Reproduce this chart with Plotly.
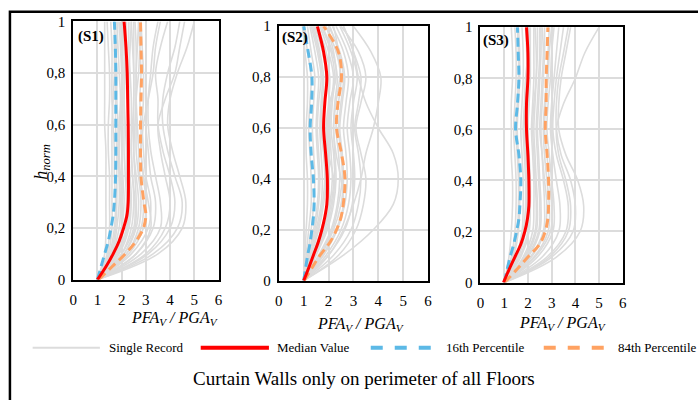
import plotly.graph_objects as go

# ---------------- data ----------------
H = [0, 0.1, 0.2, 0.3, 0.4, 0.5, 0.6, 0.7, 0.8, 0.9, 1.0]          # heights of single records
HP = [0, 0.05, 0.1, 0.15, 0.2, 0.25, 0.3, 0.4, 0.5, 0.6, 0.7, 0.8, 0.9, 1.0]  # heights of statistics

s1_records = [
    [1, 1.3, 1.35, 1.35, 1.35, 1.35, 1.3, 1.3, 1.3, 1.3, 1.3],
    [1, 1.4, 1.5, 1.5, 1.5, 1.45, 1.45, 1.5, 1.5, 1.45, 1.4],
    [1, 1.5, 1.7, 1.75, 1.7, 1.7, 1.65, 1.6, 1.6, 1.6, 1.55],
    [1, 1.6, 1.9, 1.95, 1.9, 1.85, 1.85, 1.8, 1.8, 1.75, 1.7],
    [1, 1.7, 2.0, 2.1, 2.05, 2.0, 2.0, 2.0, 2.05, 2.0, 1.95],
    [1, 1.8, 2.2, 2.3, 2.2, 2.2, 2.15, 2.1, 2.1, 2.1, 2.05],
    [1, 1.9, 2.3, 2.4, 2.35, 2.3, 2.3, 2.25, 2.2, 2.2, 2.2],
    [1, 2.0, 2.5, 2.55, 2.45, 2.4, 2.4, 2.4, 2.35, 2.3, 2.3],
    [1, 2.1, 2.6, 2.7, 2.6, 2.5, 2.5, 2.5, 2.5, 2.45, 2.4],
    [1, 2.2, 2.8, 2.9, 2.75, 2.7, 2.65, 2.6, 2.6, 2.6, 2.55],
    [1, 2.3, 2.9, 3.0, 2.9, 2.8, 2.8, 2.75, 2.8, 2.75, 2.7],
    [1, 2.4, 3.1, 3.2, 3.0, 2.9, 2.85, 2.9, 2.9, 2.85, 2.8],
    [1, 2.6, 3.3, 3.4, 3.2, 3.1, 3.0, 3.0, 3.0, 3.0, 3.0],
    [1, 2.8, 3.6, 3.6, 3.4, 3.2, 3.1, 3.1, 3.2, 3.3, 3.5],
    [1, 3.1, 4.0, 4.2, 4.0, 3.7, 3.5, 3.5, 3.4, 3.6, 3.9],
    [1, 3.3, 4.3, 4.5, 4.2, 3.9, 3.7, 3.7, 3.9, 4.2, 4.4],
    [1, 3.5, 4.5, 4.65, 4.4, 4.1, 3.9, 4.0, 4.3, 4.7, 5.0],
    [1, 3.0, 3.8, 4.0, 3.8, 3.6, 3.5, 3.8, 4.2, 4.4, 4.6],
    [1, 1.6, 1.8, 1.9, 1.9, 1.9, 1.9, 1.95, 1.9, 1.85, 1.8],
    [1, 1.75, 2.1, 2.2, 2.15, 2.1, 2.1, 2.1, 2.15, 2.15, 2.1],
    [1, 2.0, 2.4, 2.5, 2.45, 2.4, 2.45, 2.5, 2.5, 2.5, 2.5],
    [1, 2.2, 2.7, 2.8, 2.7, 2.6, 2.6, 2.6, 2.7, 2.75, 2.8],
    [1, 1.45, 1.6, 1.6, 1.6, 1.6, 1.6, 1.65, 1.7, 1.7, 1.7],
    [1, 2.6, 3.2, 3.1, 2.9, 2.8, 2.9, 3.1, 3.3, 3.4, 3.6],
    [1, 1.65, 2.0, 2.0, 1.95, 1.9, 1.95, 2.0, 2.0, 1.95, 1.9],
    [1, 1.85, 2.25, 2.35, 2.3, 2.25, 2.25, 2.3, 2.3, 2.35, 2.4],
    [1, 2.1, 2.55, 2.6, 2.55, 2.5, 2.55, 2.6, 2.6, 2.65, 2.7],
    [1, 1.55, 1.75, 1.8, 1.8, 1.8, 1.75, 1.75, 1.75, 1.8, 1.85],
]
s2_records = [
    [1, 1.05, 1.1, 1.15, 1.15, 1.1, 1.1, 1.15, 1.15, 1.05, 0.95],
    [1, 1.1, 1.2, 1.3, 1.3, 1.25, 1.2, 1.25, 1.3, 1.15, 1.05],
    [1, 1.15, 1.3, 1.4, 1.45, 1.4, 1.35, 1.4, 1.45, 1.3, 1.15],
    [1, 1.2, 1.4, 1.55, 1.6, 1.55, 1.5, 1.55, 1.6, 1.45, 1.25],
    [1, 1.25, 1.5, 1.7, 1.75, 1.7, 1.65, 1.7, 1.75, 1.6, 1.35],
    [1, 1.3, 1.6, 1.8, 1.9, 1.85, 1.8, 1.85, 1.9, 1.75, 1.45],
    [1, 1.35, 1.7, 1.95, 2.0, 1.95, 1.9, 2.0, 2.05, 1.9, 1.55],
    [1, 1.4, 1.8, 2.05, 2.15, 2.1, 2.05, 2.1, 2.2, 2.0, 1.65],
    [1, 1.5, 1.95, 2.2, 2.3, 2.25, 2.2, 2.25, 2.35, 2.15, 1.75],
    [1, 1.6, 2.1, 2.35, 2.45, 2.4, 2.3, 2.4, 2.5, 2.3, 1.9],
    [1, 1.7, 2.2, 2.5, 2.6, 2.55, 2.45, 2.55, 2.65, 2.45, 2.0],
    [1, 1.8, 2.35, 2.65, 2.75, 2.7, 2.6, 2.7, 2.8, 2.6, 2.15],
    [1, 1.9, 2.5, 2.8, 2.9, 2.85, 2.75, 2.85, 3.0, 2.75, 2.3],
    [1, 2.0, 2.65, 2.95, 3.05, 3.0, 2.9, 3.0, 3.15, 2.9, 2.45],
    [1, 2.2, 2.9, 3.2, 3.3, 3.2, 3.05, 3.2, 3.3, 3.0, 2.6],
    [1, 2.4, 3.1, 3.4, 3.5, 3.3, 3.1, 3.3, 3.5, 3.2, 2.5],
    [1, 2.6, 3.8, 4.6, 4.8, 4.6, 4.0, 3.5, 3.2, 3.0, 2.6],
    [1, 2.0, 2.6, 3.0, 3.3, 3.5, 3.8, 4.0, 4.1, 3.7, 3.0],
    [1, 1.45, 1.85, 2.1, 2.2, 2.0, 1.95, 2.05, 2.3, 2.2, 1.9],
    [1, 1.75, 2.3, 2.6, 2.5, 2.3, 2.2, 2.3, 2.45, 2.4, 2.2],
    [1, 1.3, 1.55, 1.75, 1.85, 1.8, 1.7, 1.75, 1.8, 1.65, 1.4],
    [1, 1.45, 1.9, 2.15, 2.25, 2.2, 2.1, 2.15, 2.25, 2.1, 1.7],
    [1, 1.2, 1.45, 1.6, 1.65, 1.6, 1.55, 1.6, 1.7, 1.55, 1.3],
    [1, 1.65, 2.15, 2.4, 2.55, 2.5, 2.4, 2.5, 2.6, 2.4, 2.05],
]
s3_records = [
    [1, 1.2, 1.3, 1.35, 1.35, 1.3, 1.3, 1.3, 1.35, 1.35, 1.3],
    [1, 1.3, 1.45, 1.5, 1.5, 1.45, 1.4, 1.45, 1.5, 1.5, 1.45],
    [1, 1.4, 1.6, 1.65, 1.65, 1.6, 1.55, 1.6, 1.65, 1.65, 1.6],
    [1, 1.5, 1.75, 1.8, 1.8, 1.75, 1.7, 1.75, 1.8, 1.8, 1.75],
    [1, 1.6, 1.9, 1.95, 1.95, 1.9, 1.85, 1.9, 1.95, 1.95, 1.9],
    [1, 1.7, 2.05, 2.1, 2.1, 2.05, 2.0, 2.05, 2.1, 2.1, 2.1],
    [1, 1.8, 2.2, 2.25, 2.25, 2.2, 2.15, 2.2, 2.25, 2.25, 2.25],
    [1, 1.9, 2.35, 2.4, 2.35, 2.3, 2.25, 2.3, 2.35, 2.4, 2.4],
    [1, 2.0, 2.5, 2.55, 2.5, 2.45, 2.4, 2.45, 2.5, 2.55, 2.55],
    [1, 2.1, 2.65, 2.7, 2.65, 2.6, 2.55, 2.6, 2.65, 2.7, 2.7],
    [1, 2.25, 2.85, 2.9, 2.8, 2.7, 2.65, 2.7, 2.8, 2.85, 2.9],
    [1, 2.4, 3.05, 3.1, 3.0, 2.9, 2.8, 2.85, 2.95, 3.0, 3.1],
    [1, 2.6, 3.3, 3.35, 3.2, 3.05, 2.95, 3.0, 3.1, 3.2, 3.3],
    [1, 2.8, 3.6, 3.7, 3.5, 3.2, 3.05, 3.1, 3.2, 3.35, 3.5],
    [1, 3.0, 3.9, 4.0, 3.8, 3.4, 3.2, 3.2, 3.3, 3.5, 3.7],
    [1, 3.2, 4.2, 4.35, 4.1, 3.6, 3.3, 3.3, 3.4, 3.6, 3.8],
    [1, 2.9, 3.7, 3.8, 3.6, 3.3, 3.2, 3.5, 4.0, 4.4, 5.0],
    [1, 1.55, 1.8, 1.9, 1.9, 1.85, 1.8, 1.85, 1.9, 2.0, 2.0],
    [1, 1.85, 2.3, 2.35, 2.3, 2.25, 2.2, 2.25, 2.35, 2.35, 2.3],
    [1, 2.15, 2.7, 2.8, 2.7, 2.6, 2.5, 2.55, 2.6, 2.65, 2.6],
    [1, 1.65, 2.0, 2.05, 2.0, 1.95, 1.9, 1.95, 2.0, 2.05, 2.05],
    [1, 1.95, 2.45, 2.5, 2.45, 2.4, 2.35, 2.4, 2.45, 2.5, 2.5],
    [1, 1.35, 1.55, 1.6, 1.6, 1.55, 1.5, 1.55, 1.6, 1.6, 1.55],
    [1, 2.3, 2.95, 3.0, 2.9, 2.8, 2.7, 2.75, 2.85, 2.9, 3.0],
]

s1_median = [1.0, 1.35, 1.65, 1.9, 2.08, 2.22, 2.27, 2.28, 2.28, 2.27, 2.25, 2.23, 2.18, 2.1]
s1_p16 = [1.0, 1.15, 1.3, 1.45, 1.56, 1.65, 1.7, 1.75, 1.76, 1.76, 1.76, 1.76, 1.74, 1.7]
s1_p84 = [1.05, 1.6, 2.15, 2.6, 2.9, 3.0, 2.92, 2.8, 2.78, 2.78, 2.8, 2.82, 2.8, 2.78]

s2_median = [1.0, 1.2, 1.39, 1.58, 1.73, 1.85, 1.93, 1.95, 1.88, 1.8, 1.85, 1.93, 1.8, 1.55]
s2_p16 = [1.0, 1.08, 1.16, 1.26, 1.33, 1.39, 1.42, 1.39, 1.3, 1.26, 1.32, 1.33, 1.18, 1.0]
s2_p84 = [1.02, 1.33, 1.66, 2.05, 2.32, 2.5, 2.59, 2.66, 2.52, 2.32, 2.38, 2.52, 2.39, 1.8]

s3_median = [0.97, 1.2, 1.45, 1.7, 1.87, 1.98, 2.04, 2.04, 2.0, 1.94, 1.94, 2.0, 2.0, 1.94]
s3_p16 = [1.01, 1.12, 1.25, 1.4, 1.52, 1.62, 1.66, 1.70, 1.62, 1.48, 1.56, 1.62, 1.59, 1.56]
s3_p84 = [1.01, 1.52, 2.0, 2.49, 2.73, 2.84, 2.87, 2.87, 2.81, 2.73, 2.77, 2.77, 2.81, 2.84]

panel_labels = ["(S1)", "(S2)", "(S3)"]
x_ticks = [0, 1, 2, 3, 4, 5, 6]
y_ticks = [0, 0.2, 0.4, 0.6, 0.8, 1.0]
y_ticktext = ["0", "0,2", "0,4", "0,6", "0,8", "1"]
legend_names = ["Single Record", "Median Value", "16th Percentile", "84th Percentile"]
chart_title = "Curtain Walls only on perimeter of all Floors"

# ---------------- style ----------------
W, HGT = 698, 400
FONT = "Liberation Serif, Times New Roman, serif"
GRAY = "#dcdcdc"
RED = "#ff0000"
BLUE = "#5cb9e6"
ORANGE = "#ffa262"
DASH = "9px,5px"


def px(x):
    return x / W


def py(y):
    return 1 - y / HGT


panels = [
    dict(rec=s1_records, med=s1_median, p16=s1_p16, p84=s1_p84,
         xd=[px(70), px(217)], yd=[py(283), py(14)], lab=(73, 30), title=(172, 323)),
    dict(rec=s2_records, med=s2_median, p16=s2_p16, p84=s2_p84,
         xd=[px(278), px(429)], yd=[py(284), py(19)], lab=(279, 31), title=(361, 330)),
    dict(rec=s3_records, med=s3_median, p16=s3_p16, p84=s3_p84,
         xd=[px(482), px(626)], yd=[py(286), py(20)], lab=(483, 34), title=(565, 329)),
]

fig = go.Figure()
annotations = []
shapes = []

for i, p in enumerate(panels):
    sfx = "" if i == 0 else str(i + 1)
    xa, ya = "x" + sfx, "y" + sfx
    for r in p["rec"]:
        fig.add_trace(go.Scatter(x=r, y=H, mode="lines", xaxis=xa, yaxis=ya,
                                 line=dict(color=GRAY, width=1.6, shape="spline", smoothing=1.0),
                                 showlegend=False, hoverinfo="skip"))
    fig.add_trace(go.Scatter(x=p["p16"], y=HP, mode="lines", xaxis=xa, yaxis=ya,
                             line=dict(color=BLUE, width=3, dash=DASH, shape="spline"),
                             showlegend=False))
    fig.add_trace(go.Scatter(x=p["p84"], y=HP, mode="lines", xaxis=xa, yaxis=ya,
                             line=dict(color=ORANGE, width=3, dash=DASH, shape="spline"),
                             showlegend=False))
    fig.add_trace(go.Scatter(x=p["med"], y=HP, mode="lines", xaxis=xa, yaxis=ya,
                             line=dict(color=RED, width=3, shape="spline"),
                             showlegend=False))
    axis_common = dict(showgrid=True, gridcolor=GRAY, gridwidth=1.5, zeroline=False,
                       showline=True, linecolor="black", linewidth=2, mirror=True,
                       ticks="", tickfont=dict(family=FONT, size=15, color="black"))
    fig.update_layout(**{
        "xaxis" + sfx: dict(domain=p["xd"], range=[0, 6], tickvals=x_ticks, anchor=ya,
                            ticklabelstandoff=5, **axis_common),
        "yaxis" + sfx: dict(domain=p["yd"], range=[0, 1], tickvals=y_ticks, ticktext=y_ticktext,
                            anchor=xa, ticklabelstandoff=3, **axis_common),
    })
    annotations.append(dict(text="<b>" + panel_labels[i] + "</b>", xref="paper", yref="paper",
                            x=px(p["lab"][0]), y=py(p["lab"][1]), xanchor="left", yanchor="middle",
                            showarrow=False, font=dict(family=FONT, size=15, color="black")))
    annotations.append(dict(text="<i>PFA<sub>V</sub> / PGA<sub>V</sub></i>", xref="paper", yref="paper",
                            x=px(p["title"][0]), y=py(p["title"][1]), xanchor="center", yanchor="middle",
                            showarrow=False, font=dict(family=FONT, size=16, color="black")))

# y-axis title
annotations.append(dict(text="<i>h<sub>norm</sub></i>", xref="paper", yref="paper",
                        x=px(25), y=py(160), textangle=-90, showarrow=False,
                        font=dict(family=FONT, size=18, color="black")))

# legend (drawn manually to match the wide samples)
leg_y = 354
leg_items = [
    (29, 97, 104, GRAY, None, 2),
    (199, 268, 274, RED, None, 4),
    (371, 441, 445, BLUE, "dash", 4),
    (546, 615, 619, ORANGE, "dash", 4),
]
for name, (x0, x1, xt, col, dash, w) in zip(legend_names, leg_items):
    shapes.append(dict(type="line", xref="paper", yref="paper", x0=px(x0), x1=px(x1),
                       y0=py(leg_y), y1=py(leg_y), line=dict(color=col, width=w, dash=dash)))
    annotations.append(dict(text=name, xref="paper", yref="paper", x=px(xt), y=py(leg_y),
                            xanchor="left", yanchor="middle", showarrow=False,
                            font=dict(family=FONT, size=13, color="black")))

annotations.append(dict(text=chart_title, xref="paper", yref="paper", x=px(364), y=py(386),
                        xanchor="center", yanchor="middle", showarrow=False,
                        font=dict(family=FONT, size=19, color="black")))

# outer border
shapes.append(dict(type="rect", xref="paper", yref="paper", x0=px(6), y0=py(430), x1=px(720), y1=py(4),
                   line=dict(color="black", width=2.5), fillcolor="rgba(0,0,0,0)"))

fig.update_layout(width=W, height=HGT, margin=dict(l=0, r=0, t=0, b=0),
                  font=dict(family=FONT, color="black"),
                  paper_bgcolor="white", plot_bgcolor="white", showlegend=False,
                  annotations=annotations, shapes=shapes)

fig.write_html("out.html")
